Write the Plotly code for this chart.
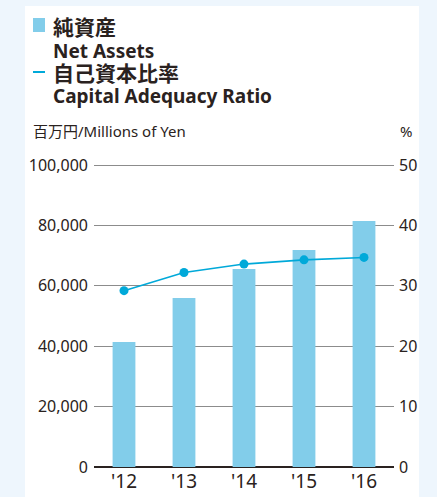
import plotly.graph_objects as go

# Data
years = ["'12", "'13", "'14", "'15", "'16"]
net_assets = [41400, 56000, 65600, 71900, 81500]          # 百万円 / Millions of Yen
capital_ratio = [29.2, 32.2, 33.6, 34.3, 34.7]             # %
left_ticks = [0, 20000, 40000, 60000, 80000, 100000]
right_ticks = [0, 10, 20, 30, 40, 50]

W, H = 437, 497
# plot area leaves a little headroom above the top gridline
L, R, T, B = 94, 43, 159, 30
PW, PH = W - L - R, H - T - B
HEADROOM = 1.02

BAR = "#82cdea"
LINE = "#00a9d9"
TXT = "#2a2220"
BG = "#eef6fd"
LATIN = "Noto Sans, Noto Sans CJK JP, sans-serif"


def px(x):
    return (x - L) / PW


def py(y):
    return (H - B - y) / PH


fig = go.Figure()
fig.add_trace(go.Bar(
    x=years, y=net_assets, width=0.38, marker=dict(color=BAR, line=dict(width=0)),
    name="純資産", yaxis="y",
))
fig.add_trace(go.Scatter(
    x=years, y=capital_ratio, mode="lines+markers", yaxis="y2",
    line=dict(color=LINE, width=1.6), marker=dict(color=LINE, size=9),
    name="自己資本比率",
))

shapes = [
    # white panel
    dict(type="rect", xref="paper", yref="paper", x0=px(25), x1=px(419), y0=py(500), y1=py(6),
         fillcolor="white", line=dict(width=0), layer="below"),
    # legend keys
    dict(type="rect", xref="paper", yref="paper", x0=px(33), x1=px(45), y0=py(32), y1=py(18),
         fillcolor=BAR, line=dict(width=0)),
    dict(type="line", xref="paper", yref="paper", x0=px(33), x1=px(45), y0=py(72), y1=py(72),
         line=dict(color=LINE, width=2)),
]

legend_text = (
    "<b><span style='font-size:21px'>純資産</span></b><br>"
    "<b><span style='font-size:19px'>Net Assets</span></b><br>"
    "<b><span style='font-size:21px'>自己資本比率</span></b><br>"
    "<b><span style='font-size:19px'>Capital Adequacy Ratio</span></b>"
)

annotations = [
    dict(text=legend_text, x=px(52), y=py(12), yanchor="top", align="left",
         font=dict(family=LATIN, size=17.5, color=TXT)),
    dict(text="百万円/Millions of Yen", x=px(32), y=py(131), font=dict(family=LATIN, size=15, color=TXT)),
    dict(text="%", x=px(413), y=py(131), xanchor="right", font=dict(family=LATIN, size=15, color=TXT)),
]
for a in annotations:
    a.update(xref="paper", yref="paper", showarrow=False, borderpad=0)
    a.setdefault("xanchor", "left")
    a.setdefault("yanchor", "middle")

fig.update_layout(
    width=W, height=H,
    margin=dict(l=L, r=R, t=T, b=B, pad=0, autoexpand=False),
    paper_bgcolor=BG, plot_bgcolor="rgba(0,0,0,0)",
    showlegend=False,
    shapes=shapes, annotations=annotations,
    xaxis=dict(
        showgrid=False, showline=False, ticks="", zeroline=False, automargin=False,
        tickfont=dict(family=LATIN, size=19, color=TXT), ticklabelstandoff=1,
    ),
    yaxis=dict(
        range=[0, max(left_ticks) * HEADROOM], tickvals=left_ticks, tickformat=",",
        showline=False, ticks="",
        showgrid=True, gridcolor="#8c8c8c", gridwidth=1, automargin=False,
        zeroline=True, zerolinecolor=TXT, zerolinewidth=1.6,
        tickfont=dict(family=LATIN, size=16, color=TXT), ticklabelstandoff=5,
    ),
    yaxis2=dict(
        range=[0, max(right_ticks) * HEADROOM], tickvals=right_ticks, overlaying="y", side="right",
        showgrid=False, zeroline=False, showline=False, ticks="", automargin=False,
        tickfont=dict(family=LATIN, size=16, color=TXT), ticklabelstandoff=4,
    ),
)

fig.write_html("out.html")
